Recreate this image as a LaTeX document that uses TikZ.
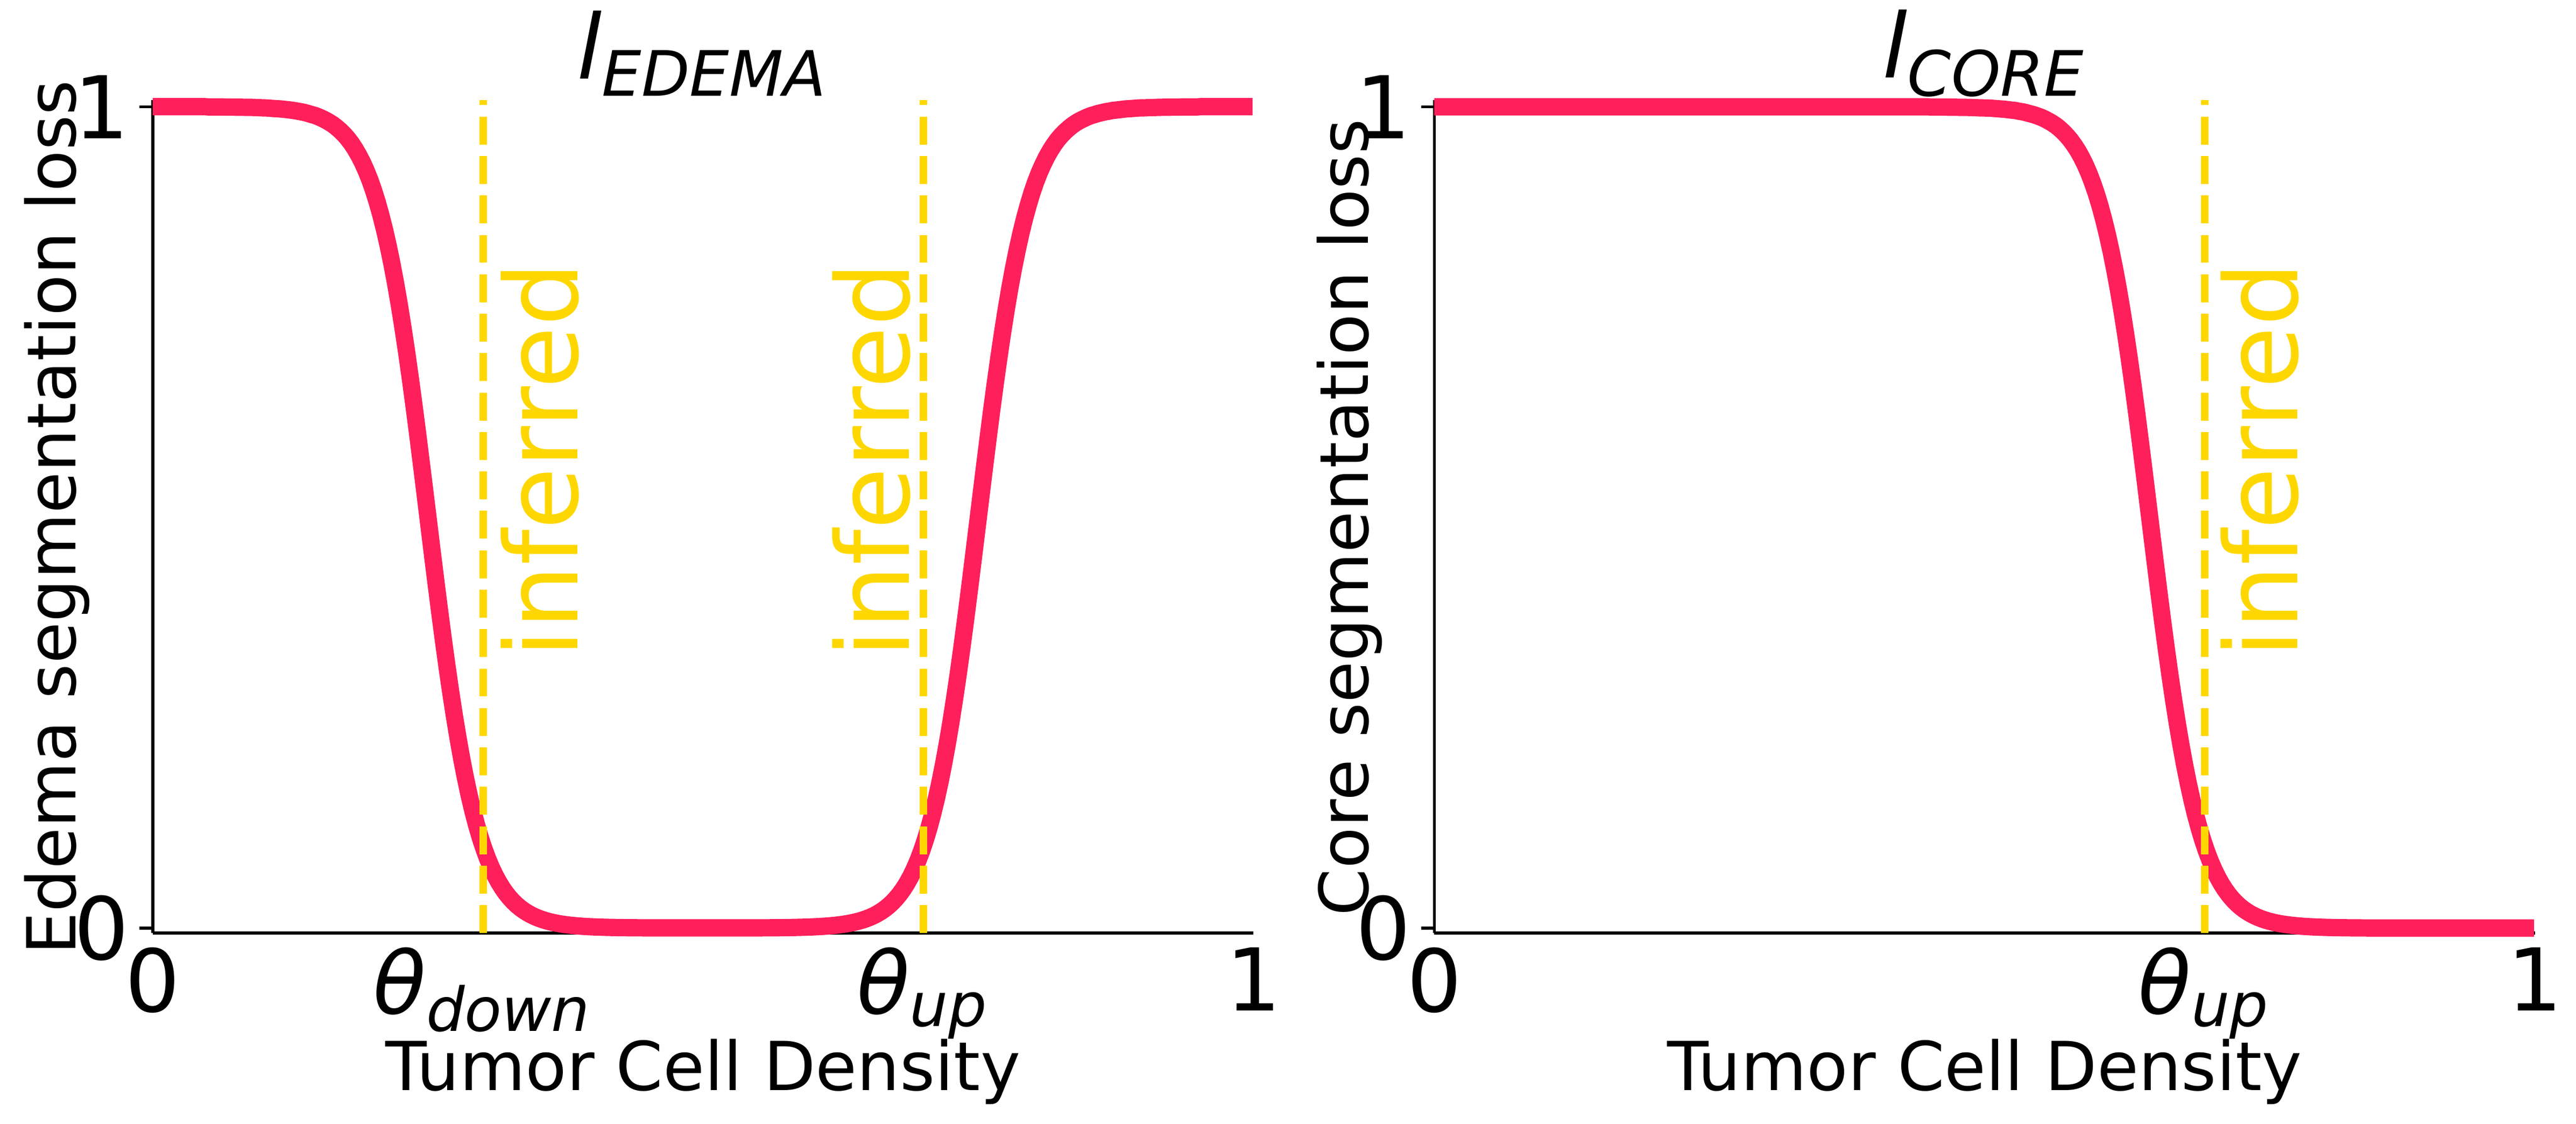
\documentclass[tikz,border=0pt]{standalone}
\usepackage{fontspec}
\setmainfont{DejaVu Sans}
\usetikzlibrary{positioning}
\definecolor{curvepink}{HTML}{FF1F5B}
\definecolor{infgold}{HTML}{FFD700}
\tikzset{
  spine/.style={draw,black,line width=0.5pt},
  losscurve/.style={curvepink,line width=3pt},
  thetaline/.style={infgold,line width=1.3pt,dash pattern=on 0.17cm off 0.07cm},
  ticklab/.style={font=\fontsize{15}{15}\selectfont,inner sep=1pt},
  axlab/.style={font=\fontsize{11.7}{12}\selectfont,inner sep=0pt},
  inflab/.style={infgold,font=\fontsize{17.5}{18}\selectfont,rotate=90,inner sep=0pt},
  titlelab/.style={font=\fontsize{15.5}{16}\selectfont\itshape,inner sep=0pt}
}
% clipped sigmoid, falls from 1 to 0 around #1
\newcommand{\sigdown}[1]{1/(1+exp(min(9,max(-9,44*(\x-#1)))))}
\newcommand{\sigup}[1]{1/(1+exp(min(9,max(-9,-44*(\x-#1)))))}
\newcommand{\thsub}[1]{{\itshape θ\textsubscript{#1}}}
\begin{document}
\begin{tikzpicture}
  \useasboundingbox (0,0) rectangle (15.68,6.84);
  % left panel: edema
  \begin{scope}[shift={(0.93,1.19)},xscale=6.7,yscale=5]
    \draw[spine] (0,-0.006) -- (0,1.008);
    \draw[spine] (0,-0.006) -- (1,-0.006);
    \draw[spine] (0,0) -- (-0.012,0);
    \draw[spine] (0,1) -- (-0.012,1);
    \draw[losscurve] plot[domain=0:1,samples=300] (\x,{\sigdown{0.25}+\sigup{0.75}});
    \draw[thetaline] (0.3,-0.006) -- (0.3,1.008);
    \draw[thetaline] (0.7,-0.006) -- (0.7,1.008);
    \node[ticklab,anchor=east] (ey0) at (-0.015,0) {0};
    \node[ticklab,anchor=east] (ey1) at (-0.015,1) {1};
    \node[ticklab,anchor=north] (ex0) at (0,-0.015) {0};
    \node[ticklab,anchor=north] (ex1) at (1,-0.015) {1};
    \node[ticklab,anchor=north] (edown) at (0.3,-0.015) {\thsub{down}};
    \node[ticklab,anchor=north] (eup) at (0.7,-0.015) {\thsub{up}};
    \node[axlab] (exlab) at (0.5,-0.175) {Tumor Cell Density};
    \node[axlab,rotate=90] (eylab) at (-0.087,0.5) {Edema segmentation loss};
    \node[inflab] (einf1) at (0.352,0.57) {inferred};
    \node[inflab] (einf2) at (0.653,0.57) {inferred};
    \node[titlelab] (etitle) at (0.5,1.065) {l\textsubscript{EDEMA}};
  \end{scope}
  % right panel: core
  \begin{scope}[shift={(8.73,1.19)},xscale=6.7,yscale=5]
    \draw[spine] (0,-0.006) -- (0,1.008);
    \draw[spine] (0,-0.006) -- (1,-0.006);
    \draw[spine] (0,0) -- (-0.012,0);
    \draw[spine] (0,1) -- (-0.012,1);
    \draw[losscurve] plot[domain=0:1,samples=300] (\x,{\sigdown{0.65}});
    \draw[thetaline] (0.7,-0.006) -- (0.7,1.008);
    \node[ticklab,anchor=east] (cy0) at (-0.015,0) {0};
    \node[ticklab,anchor=east] (cy1) at (-0.015,1) {1};
    \node[ticklab,anchor=north] (cx0) at (0,-0.015) {0};
    \node[ticklab,anchor=north] (cx1) at (1,-0.015) {1};
    \node[ticklab,anchor=north] (cup) at (0.7,-0.015) {\thsub{up}};
    \node[axlab] (cxlab) at (0.5,-0.175) {Tumor Cell Density};
    \node[axlab,rotate=90] (cylab) at (-0.077,0.5) {Core segmentation loss};
    \node[inflab] (cinf) at (0.75,0.57) {inferred};
    \node[titlelab] (ctitle) at (0.5,1.065) {l\textsubscript{CORE}};
  \end{scope}
\end{tikzpicture}
\end{document}
